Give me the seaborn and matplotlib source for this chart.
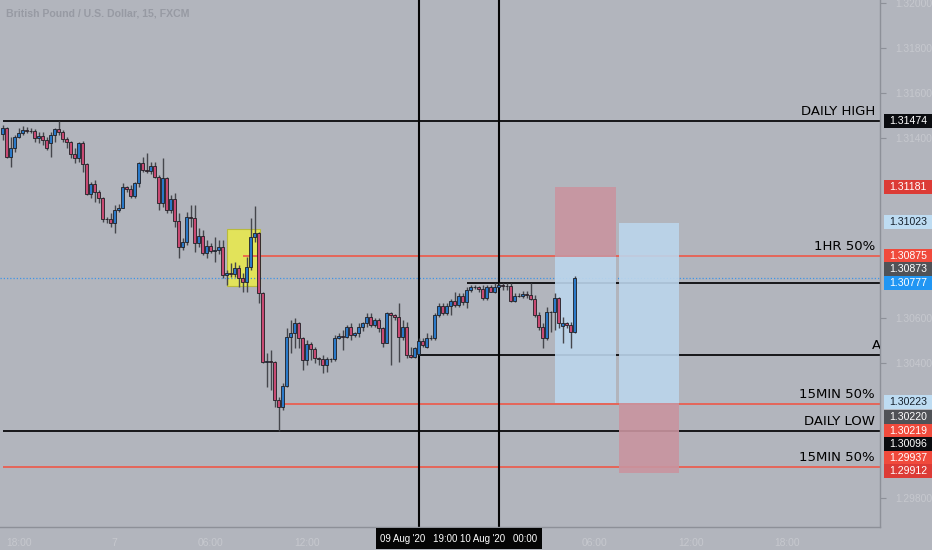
import matplotlib
matplotlib.use("Agg")
import matplotlib.pyplot as plt
import matplotlib.transforms as mtransforms
from matplotlib.patches import Rectangle
import numpy as np
import pandas as pd
import seaborn as sns

# GBPUSD 15 min candles (FXCM), 6 Aug 18:00 -> 10 Aug 04:45
opens = [1.31418, 1.31444, 1.31316, 1.31356, 1.31404, 1.31422, 1.31436, 1.31433, 1.31429, 1.31400,
         1.31409, 1.31391, 1.31378, 1.31413, 1.31440, 1.31427, 1.31396, 1.31382, 1.31329, 1.31311,
         1.31378, 1.31284, 1.31151, 1.31196, 1.31160, 1.31133, 1.31040, 1.31038, 1.31022, 1.31080,
         1.31089, 1.31182, 1.31175, 1.31142, 1.31200, 1.31289, 1.31258, 1.31253, 1.31276, 1.31227,
         1.31111, 1.31222, 1.31080, 1.31129, 1.31031, 1.30916, 1.30938, 1.31049, 1.31044, 1.30933,
         1.30964, 1.30889, 1.30920, 1.30898, 1.30902, 1.30916, 1.30791, 1.30800, 1.30796, 1.30822,
         1.30778, 1.30760, 1.30827, 1.30960, 1.30978, 1.30711, 1.30404, 1.30409, 1.30404, 1.30236,
         1.30204, 1.30298, 1.30516, 1.30533, 1.30578, 1.30511, 1.30413, 1.30484, 1.30462, 1.30422,
         1.30418, 1.30391, 1.30418, 1.30416, 1.30511, 1.30518, 1.30516, 1.30560, 1.30524, 1.30533,
         1.30560, 1.30578, 1.30604, 1.30569, 1.30591, 1.30556, 1.30489, 1.30622, 1.30613, 1.30604,
         1.30516, 1.30560, 1.30436, 1.30427, 1.30440, 1.30498, 1.30471, 1.30511, 1.30513, 1.30613,
         1.30653, 1.30622, 1.30653, 1.30676, 1.30658, 1.30698, 1.30671, 1.30724, 1.30738, 1.30736,
         1.30731, 1.30689, 1.30738, 1.30716, 1.30738, 1.30747, 1.30742, 1.30740, 1.30676, 1.30698,
         1.30696, 1.30707, 1.30702, 1.30684, 1.30613, 1.30560, 1.30511, 1.30627, 1.30625, 1.30689,
         1.30564, 1.30578, 1.30571, 1.30538]
highs = [1.31458, 1.31447, 1.31404, 1.31413, 1.31444, 1.31453, 1.31449, 1.31444, 1.31440, 1.31427,
         1.31427, 1.31404, 1.31427, 1.31444, 1.31474, 1.31436, 1.31404, 1.31386, 1.31356, 1.31382,
         1.31386, 1.31289, 1.31204, 1.31213, 1.31169, 1.31138, 1.31049, 1.31067, 1.31102, 1.31107,
         1.31200, 1.31187, 1.31191, 1.31204, 1.31293, 1.31316, 1.31333, 1.31293, 1.31293, 1.31236,
         1.31311, 1.31227, 1.31147, 1.31156, 1.31067, 1.30956, 1.31071, 1.31102, 1.31102, 1.31000,
         1.30991, 1.30947, 1.30933, 1.30960, 1.30947, 1.30947, 1.30813, 1.30844, 1.30849, 1.30836,
         1.30800, 1.30871, 1.31044, 1.31098, 1.30982, 1.30715, 1.30444, 1.30458, 1.30409, 1.30249,
         1.30311, 1.30556, 1.30591, 1.30600, 1.30582, 1.30516, 1.30502, 1.30493, 1.30471, 1.30427,
         1.30436, 1.30427, 1.30422, 1.30524, 1.30533, 1.30547, 1.30569, 1.30578, 1.30538, 1.30578,
         1.30582, 1.30622, 1.30622, 1.30600, 1.30600, 1.30560, 1.30627, 1.30626, 1.30617, 1.30667,
         1.30591, 1.30582, 1.30471, 1.30471, 1.30511, 1.30511, 1.30533, 1.30524, 1.30622, 1.30667,
         1.30667, 1.30667, 1.30684, 1.30716, 1.30711, 1.30711, 1.30738, 1.30747, 1.30747, 1.30742,
         1.30747, 1.30747, 1.30747, 1.30756, 1.30756, 1.30756, 1.30756, 1.30756, 1.30711, 1.30711,
         1.30720, 1.30720, 1.30756, 1.30702, 1.30627, 1.30578, 1.30649, 1.30631, 1.30711, 1.30693,
         1.30604, 1.30582, 1.30582, 1.30787]
lows = [1.31391, 1.31311, 1.31271, 1.31338, 1.31400, 1.31413, 1.31422, 1.31422, 1.31382, 1.31378,
        1.31369, 1.31347, 1.31316, 1.31382, 1.31413, 1.31382, 1.31356, 1.31311, 1.31289, 1.31293,
        1.31249, 1.31147, 1.31133, 1.31116, 1.31111, 1.31027, 1.31022, 1.31004, 1.30978, 1.31071,
        1.31089, 1.31160, 1.31133, 1.31133, 1.31182, 1.31249, 1.31244, 1.31240, 1.31222, 1.31080,
        1.31093, 1.31067, 1.31067, 1.31004, 1.30867, 1.30902, 1.30924, 1.31004, 1.30893, 1.30916,
        1.30880, 1.30867, 1.30889, 1.30849, 1.30884, 1.30778, 1.30747, 1.30782, 1.30782, 1.30738,
        1.30716, 1.30716, 1.30813, 1.30938, 1.30667, 1.30400, 1.30293, 1.30280, 1.30204, 1.30096,
        1.30191, 1.30293, 1.30444, 1.30467, 1.30467, 1.30369, 1.30391, 1.30413, 1.30400, 1.30391,
        1.30355, 1.30360, 1.30404, 1.30409, 1.30507, 1.30458, 1.30511, 1.30502, 1.30516, 1.30516,
        1.30542, 1.30560, 1.30560, 1.30560, 1.30538, 1.30471, 1.30489, 1.30391, 1.30591, 1.30404,
        1.30502, 1.30422, 1.30422, 1.30422, 1.30436, 1.30471, 1.30467, 1.30502, 1.30502, 1.30604,
        1.30613, 1.30613, 1.30613, 1.30649, 1.30649, 1.30658, 1.30644, 1.30716, 1.30729, 1.30716,
        1.30680, 1.30680, 1.30716, 1.30711, 1.30736, 1.30724, 1.30724, 1.30671, 1.30671, 1.30693,
        1.30689, 1.30689, 1.30680, 1.30604, 1.30547, 1.30467, 1.30502, 1.30538, 1.30547, 1.30556,
        1.30489, 1.30556, 1.30467, 1.30533]
closes = [1.31444, 1.31316, 1.31356, 1.31404, 1.31422, 1.31436, 1.31433, 1.31429, 1.31400, 1.31409,
          1.31391, 1.31356, 1.31413, 1.31440, 1.31427, 1.31396, 1.31382, 1.31329, 1.31311, 1.31378,
          1.31284, 1.31151, 1.31196, 1.31160, 1.31133, 1.31040, 1.31038, 1.31022, 1.31080, 1.31089,
          1.31182, 1.31175, 1.31142, 1.31200, 1.31289, 1.31258, 1.31253, 1.31276, 1.31227, 1.31111,
          1.31222, 1.31080, 1.31129, 1.31031, 1.30916, 1.30938, 1.31049, 1.31044, 1.30933, 1.30964,
          1.30889, 1.30920, 1.30898, 1.30902, 1.30916, 1.30791, 1.30800, 1.30796, 1.30822, 1.30778,
          1.30760, 1.30827, 1.30960, 1.30978, 1.30711, 1.30404, 1.30409, 1.30404, 1.30236, 1.30204,
          1.30298, 1.30516, 1.30533, 1.30578, 1.30511, 1.30413, 1.30484, 1.30462, 1.30422, 1.30418,
          1.30391, 1.30418, 1.30416, 1.30511, 1.30518, 1.30516, 1.30560, 1.30524, 1.30533, 1.30560,
          1.30578, 1.30604, 1.30569, 1.30591, 1.30556, 1.30489, 1.30622, 1.30613, 1.30604, 1.30516,
          1.30560, 1.30436, 1.30427, 1.30467, 1.30498, 1.30480, 1.30511, 1.30513, 1.30613, 1.30653,
          1.30622, 1.30653, 1.30676, 1.30658, 1.30698, 1.30671, 1.30724, 1.30738, 1.30736, 1.30731,
          1.30689, 1.30738, 1.30716, 1.30738, 1.30747, 1.30742, 1.30740, 1.30676, 1.30698, 1.30696,
          1.30707, 1.30702, 1.30684, 1.30613, 1.30560, 1.30511, 1.30627, 1.30625, 1.30689, 1.30578,
          1.30578, 1.30571, 1.30538, 1.30777]

# time axis (bar index -> label)
tick_bars = [4, 28, 52, 76, 148, 172, 196]
tick_text = ["18:00", "7", "06:00", "12:00", "06:00", "12:00", "18:00"]
cross_bars = [104, 124]
cross_text = ["09 Aug '20   19:00", "10 Aug '20   00:00"]

# drawn levels
level_prices = [1.31474, 1.30875, 1.30755, 1.30436, 1.30219, 1.30096, 1.29937]
level_start = [0, 60, 116, 104, 69, 0, 0]
level_kind = ["black", "red", "black", "black", "red", "black", "red"]
level_names = ["DAILY HIGH", "1HR 50%", "", "A", "15MIN 50%", "DAILY LOW", "15MIN 50%"]

# position tools: (first bar, last bar, entry, stop, target)
short_trade = (138.1, 153.3, 1.30873, 1.31181, 1.30223)
long_trade = (154.0, 169.1, 1.30220, 1.29912, 1.31023)
zone_bars = (56.1, 64.3)
zone_prices = (1.30742, 1.30996)

# labels on the price scale: value, where it sits after stacking, style
tag_values = ["1.31474", "1.31181", "1.31023", "1.30875", "1.30873", "1.30777",
              "1.30223", "1.30220", "1.30219", "1.30096", "1.29937", "1.29912"]
tag_pos = [1.31476, 1.31182, 1.31027, 1.30875, 1.30818, 1.30756,
           1.30227, 1.30160, 1.30098, 1.30040, 1.29978, 1.29920]
tag_style = ["black", "red2", "lblue", "red", "gray", "blue",
             "lblue", "gray", "red", "black", "red", "red2"]

price_ticks = np.round(np.arange(1.298, 1.3201, 0.002), 3)

sns.set_theme(style="white")
plt.rcParams["font.family"] = ["DejaVu Sans"]

BG = "#b2b5bd"
UP = "#2a79c8"
DOWN = "#c84a73"
EDGE = "#1f1f24"
WICK = "#45464c"
LINE = {"black": "#0a0a0c", "red": "#ee5848"}
TAG = {"black": ("#0b0c10", "white"), "red": ("#f04a3c", "white"), "red2": ("#dc3b36", "white"),
       "lblue": ("#bedcf2", "#15202c"), "gray": ("#505257", "white"), "blue": ("#2196f3", "white")}
SMALL = ["Liberation Sans", "DejaVu Sans"]

candles = pd.DataFrame({"open": opens, "high": highs, "low": lows, "close": closes})
candles["bar"] = np.arange(len(candles))
candles["up"] = candles["close"] >= candles["open"]
candles["bottom"] = candles[["open", "close"]].min(axis=1)
candles["body"] = (candles["close"] - candles["open"]).abs().clip(lower=0.00002)

W, H = 932, 550
fig = plt.figure(figsize=(W / 100, H / 100), dpi=100, facecolor=BG)
ax = fig.add_axes([0, 23 / H, 880 / W, 527 / H], facecolor=BG)
ax.set_xlim(-0.675, 219.33)
ax.set_ylim(1.296711, 1.320133)

# yellow zone
ax.add_patch(Rectangle((zone_bars[0], zone_prices[0]), zone_bars[1] - zone_bars[0],
                       zone_prices[1] - zone_prices[0], fc="#e2e35a", ec="#b9ba3c", lw=0.8, zorder=1))

# horizontal levels
for price, start, kind in zip(level_prices, level_start, level_kind):
    ax.hlines(price, start, 219.33, color=LINE[kind], lw=1.3 if kind == "black" else 1.2, zorder=2)
ax.axhline(closes[-1], color="#3f95e6", lw=0.9, ls=(0, (1, 1.6)), zorder=2)

for bar in cross_bars:
    ax.axvline(bar, color="#050505", lw=1.5, zorder=2)

# position tools
for first, last, entry, stop, target in [short_trade, long_trade]:
    width = last - first
    ax.add_patch(Rectangle((first, min(entry, stop)), width, abs(stop - entry),
                           fc="#c9949f", alpha=0.9, lw=0, zorder=3))
    ax.add_patch(Rectangle((first, min(entry, target)), width, abs(target - entry),
                           fc="#bcd6ec", alpha=0.9, lw=0, zorder=3))

# candles
ax.vlines(candles["bar"], candles["low"], candles["high"], color=WICK, lw=1.0, zorder=4)
ax.bar(candles["bar"], candles["body"], bottom=candles["bottom"], width=0.78,
       color=np.where(candles["up"], UP, DOWN), edgecolor=EDGE, linewidth=0.6, zorder=5)

# level names on the right
for price, name in zip(level_prices, level_names):
    if not name:
        continue
    if name == "A":
        tr = mtransforms.offset_copy(ax.get_yaxis_transform(), fig=fig, x=-8, y=3, units="dots")
        ax.text(1, price, name, transform=tr, ha="left", va="bottom", fontsize=9.5,
                color="black", clip_on=True)
    else:
        tr = mtransforms.offset_copy(ax.get_yaxis_transform(), fig=fig, x=-5, y=3, units="dots")
        ax.text(1, price, name, transform=tr, ha="right", va="bottom", fontsize=9.5, color="black")

# axes styling
sns.despine(ax=ax, left=True, top=True, right=False, bottom=False)
for side in ["right", "bottom"]:
    ax.spines[side].set_color("#8d9098")
    ax.spines[side].set_linewidth(1.0)

# scale labels covered by a tag are not shown
ppx = (1.320133 - 1.296711) / 527
free_ticks = [t for t in price_ticks if min(abs(t - p) for p in tag_pos) > 13 * ppx]
ax.yaxis.tick_right()
ax.set_yticks(free_ticks)
ax.set_yticklabels([f"{t:.5f}" for t in free_ticks])
ax.set_xticks(tick_bars)
ax.set_xticklabels(tick_text)
ax.tick_params(axis="y", length=4, width=0.8, color="#8d9098", labelcolor="#c6c8ce",
               labelsize=7.4, pad=7)
ax.tick_params(axis="x", length=3, width=0.8, color="#8d9098", labelcolor="#c6c8ce",
               labelsize=7.4, pad=5)
for lbl in ax.get_xticklabels() + ax.get_yticklabels():
    lbl.set_fontfamily(SMALL)
ax.grid(False)

fig.text(6 / W, 1 - 13 / H, "British Pound / U.S. Dollar, 15, FXCM", fontsize=7.6,
         color="#979aa3", va="center", ha="left", family=SMALL, weight="bold")

# price scale tags
fig.canvas.draw()
for text, pos, style in zip(tag_values, tag_pos, tag_style):
    fc, tc = TAG[style]
    y = ax.transData.transform((0, pos))[1]
    fig.add_artist(Rectangle((884 / W, (y - 7) / H), 48 / W, 14 / H, transform=fig.transFigure,
                             fc=fc, ec="none", zorder=5))
    fig.text(908 / W, y / H, text, fontsize=7.6, color=tc, ha="center", va="center",
             family=SMALL, zorder=6)

# crosshair time tags
for bar, text in zip(cross_bars, cross_text):
    x = ax.transData.transform((bar, 0))[0]
    fig.add_artist(Rectangle(((x - 43) / W, 1 / H), 86 / W, 21 / H, transform=fig.transFigure,
                             fc="#050505", ec="none", zorder=5))
    fig.text(x / W, 11.5 / H, text, fontsize=6.9, color="white", ha="center", va="center",
             family=SMALL, zorder=6)

fig.savefig("out.png", dpi=100, facecolor=BG)
